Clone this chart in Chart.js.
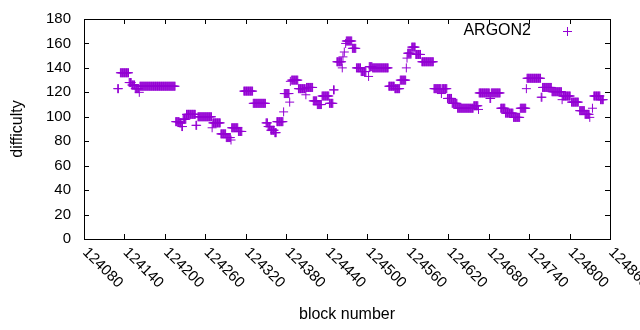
<!DOCTYPE html>
<html>
<head>
<meta charset="utf-8">
<script src="https://cdn.jsdelivr.net/npm/chart.js@4"></script>
<style>
  html, body { margin: 0; padding: 0; background: #fff; }
  #wrap { width: 640px; height: 330px; }
</style>
</head>
<body>
<div id="wrap"><canvas id="myChart" width="640" height="330"></canvas></div>
<script>
// difficulty runs: blocks runStart..runEnd all had the value runValue
const runStart = [124130,124134,124147,124151,124156,124162,124163,124216,124222,124225,124227,124232,124246,124249,124270,124271,124283,124291,124298,124299,124309,124317,124331,124350,124353,124357,124363,124366,124376,124377,124385,124386,124388,124398,124409,124410,124420,124426,124433,124444,124450,124455,124463,124464,124466,124468,124469,124478,124484,124491,124502,124503,124508,124532,124541,124549,124558,124559,124560,124566,124572,124581,124599,124610,124611,124619,124626,124634,124658,124665,124666,124682,124684,124698,124705,124717,124727,124736,124737,124758,124760,124774,124789,124790,124803,124815,124823,124830,124834,124836,124846];
const runEnd   = [124131,124146,124150,124155,124161,124162,124215,124221,124224,124226,124231,124245,124247,124269,124270,124282,124290,124297,124298,124308,124314,124330,124349,124352,124356,124362,124365,124375,124376,124384,124385,124386,124397,124408,124409,124419,124425,124432,124443,124449,124451,124462,124463,124464,124466,124468,124477,124483,124490,124498,124502,124507,124531,124540,124548,124557,124558,124559,124565,124571,124579,124598,124609,124610,124618,124625,124633,124657,124664,124665,124681,124683,124697,124704,124716,124726,124735,124736,124757,124759,124773,124788,124789,124801,124813,124822,124829,124830,124834,124845,124850];
const runValue = [123,136,128,126,123,120,125,96,95,92,98,102,93,100,91,95,86,83,81,91,88,121,111,95,92,89,87,96,104,119,112,129,130,123,118,124,113,110,117,111,122,145,140,149,153,160,162,156,140,137,133,141,140,125,123,130,140,148,152,157,151,145,123,119,123,115,111,107,109,106,119.5,115,119.5,107,103,99.5,107,123,131.5,116,124,120.5,114,117,112,105,102,99.5,107,117,114];

const xTicks = [124080,124140,124200,124260,124320,124380,124440,124500,124560,124620,124680,124740,124800,124860];
const yTicks = [0,20,40,60,80,100,120,140,160,180];
const seriesName = 'ARGON2';

const purple = '#9400D3';
const fontName = '"Liberation Sans", Arial, sans-serif';

// one point per block
let points = [];
for (let i = 0; i < runStart.length; i++) {
  for (let b = runStart[i]; b <= runEnd[i]; b++) {
    points.push({ x: b, y: runValue[i] });
  }
}

// gnuplot style frame, inward ticks, labels, legend
const gnuFrame = {
  id: 'gnuFrame',
  afterDraw(chart) {
    const c = chart.ctx;
    const a = chart.chartArea;
    const sx = chart.scales.x, sy = chart.scales.y;
    c.save();
    c.strokeStyle = '#000';
    c.lineWidth = 1;
    c.strokeRect(Math.round(a.left) + 0.5, Math.round(a.top) + 0.5,
                 Math.round(a.right - a.left), Math.round(a.bottom - a.top));
    c.beginPath();
    const tl = 5;
    xTicks.forEach(v => {
      const px = Math.round(sx.getPixelForValue(v)) + 0.5;
      c.moveTo(px, a.bottom); c.lineTo(px, a.bottom - tl);
      c.moveTo(px, a.top); c.lineTo(px, a.top + tl);
    });
    yTicks.forEach(v => {
      const py = Math.round(sy.getPixelForValue(v)) + 0.5;
      c.moveTo(a.left, py); c.lineTo(a.left + tl, py);
      c.moveTo(a.right, py); c.lineTo(a.right - tl, py);
    });
    c.stroke();

    c.fillStyle = '#000';
    c.font = '15px ' + fontName;
    c.textAlign = 'right';
    c.textBaseline = 'middle';
    yTicks.forEach(v => {
      c.fillText(String(v), a.left - 13, sy.getPixelForValue(v));
    });
    c.textAlign = 'left';
    xTicks.forEach(v => {
      const px = sx.getPixelForValue(v);
      c.save();
      c.translate(px + 1, a.bottom + 11);
      c.rotate(Math.PI / 4);
      c.fillText(String(v), 0, 0);
      c.restore();
    });

    // axis titles
    c.font = '16px ' + fontName;
    c.textAlign = 'center';
    c.fillText('block number', (a.left + a.right) / 2, 315);
    c.save();
    c.translate(18, (a.top + a.bottom) / 2);
    c.rotate(-Math.PI / 2);
    c.fillText('difficulty', 0, 0);
    c.restore();

    // key
    c.textAlign = 'right';
    c.fillText(seriesName, 531, 31);
    c.strokeStyle = purple;
    c.beginPath();
    c.moveTo(563, 31.5); c.lineTo(572, 31.5);
    c.moveTo(567.5, 27); c.lineTo(567.5, 36);
    c.stroke();
    c.restore();
  }
};

const ctx = document.getElementById('myChart').getContext('2d');
const newChart = new Chart(ctx, {
  type: 'scatter',
  data: {
    datasets: [{
      label: seriesName,
      data: points,
      pointStyle: 'cross',
      pointRadius: 4.5,
      pointBorderWidth: 1,
      borderColor: purple,
      backgroundColor: purple
    }]
  },
  options: {
    responsive: false,
    animation: false,
    layout: { padding: { left: 84, right: 30, top: 19, bottom: 91 } },
    plugins: { legend: { display: false }, tooltip: { enabled: false } },
    scales: {
      x: { type: 'linear', display: false, min: 124080, max: 124860 },
      y: { type: 'linear', display: false, min: 0, max: 180 }
    }
  },
  plugins: [gnuFrame]
});
</script>
</body>
</html>
